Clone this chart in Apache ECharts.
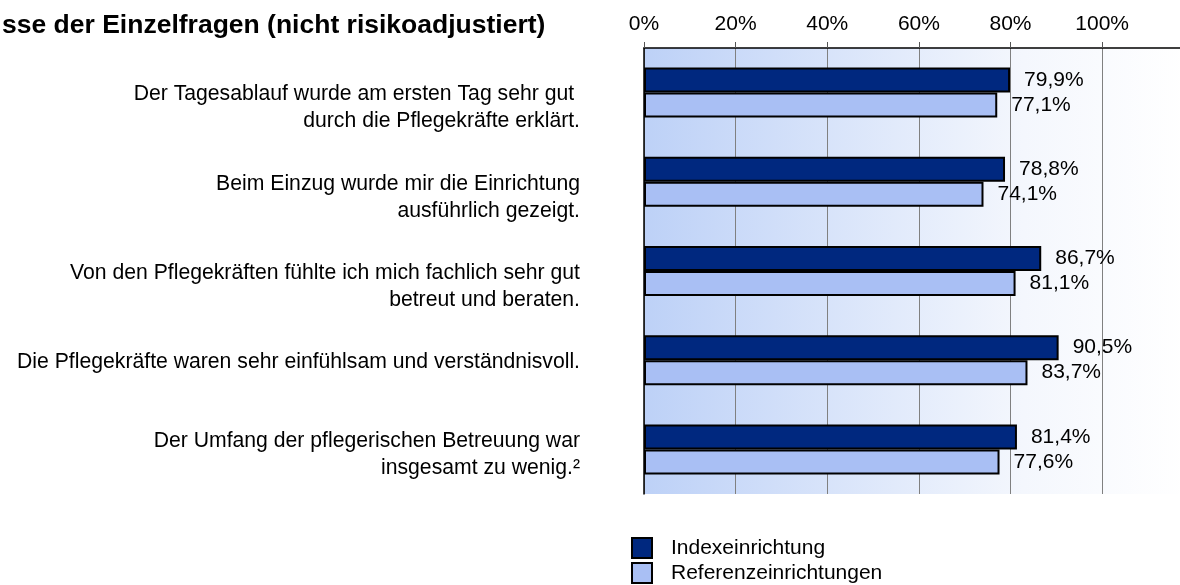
<!DOCTYPE html>
<html>
<head>
<meta charset="utf-8">
<script src="https://cdn.jsdelivr.net/npm/echarts@6/dist/echarts.min.js"></script>
<style>
  html, body { margin: 0; padding: 0; background: #fff; }
  #chart { width: 1180px; height: 585px; }
</style>
</head>
<body>
<div id="chart"></div>
<script>
// question texts (top to bottom)
const questions = [
  "Der Tagesablauf wurde am ersten Tag sehr gut \ndurch die Pflegekräfte erklärt.",
  "Beim Einzug wurde mir die Einrichtung\nausführlich gezeigt.",
  "Von den Pflegekräften fühlte ich mich fachlich sehr gut\nbetreut und beraten.",
  "Die Pflegekräfte waren sehr einfühlsam und verständnisvoll.",
  "Der Umfang der pflegerischen Betreuung war\ninsgesamt zu wenig.²"
];
const indexValues = [79.9, 78.8, 86.7, 90.5, 81.4];
const referenceValues = [77.1, 74.1, 81.1, 83.7, 77.6];
const seriesNames = ["Indexeinrichtung", "Referenzeinrichtungen"];
const titleText = "sse der Einzelfragen (nicht risikoadjustiert)";

const font = "Liberation Sans, Arial, sans-serif";
// spacer above each label so the first line sits on the bar pair
const labelPad = ["p31", "p31", "p31", "p4", "p10"];

const chart = echarts.init(document.getElementById("chart"));

const pct = v => v.toFixed(1).replace(".", ",") + "%";

const valueLabel = {
  show: true,
  position: "right",
  distance: 14,
  fontFamily: font,
  fontSize: 21,
  color: "#000",
  formatter: p => pct(p.value)
};

const legendBase = {
  orient: "vertical",
  left: 631,
  padding: 0,
  itemWidth: 20,
  itemHeight: 20,
  icon: "rect",
  textStyle: { fontFamily: font, fontSize: 21, color: "#000", padding: [0, 0, 0, 14] }
};

chart.setOption({
  animation: false,
  title: {
    text: titleText,
    left: -3,
    top: 7,
    textStyle: { fontFamily: font, fontSize: 26.5, fontWeight: "bold", color: "#000" }
  },
  legend: [
    Object.assign({}, legendBase, { top: 537, data: [seriesNames[0]] }),
    Object.assign({}, legendBase, { top: 562, data: [seriesNames[1]] })
  ],
  grid: {
    left: 644,
    top: 48,
    right: -6,
    bottom: 91,
    outerBoundsMode: "none",
    show: true,
    borderWidth: 0,
    backgroundColor: new echarts.graphic.LinearGradient(0, 0, 1, 0, [
      { offset: 0, color: "#bdd1f7" },
      { offset: 0.7, color: "#f4f7fd" },
      { offset: 1, color: "#ffffff" }
    ])
  },
  xAxis: {
    type: "value",
    position: "top",
    min: 0,
    max: 118.3,
    interval: 20,
    axisLine: { show: true, lineStyle: { color: "#000", width: 1.5 } },
    axisTick: { show: true, length: 6, lineStyle: { color: "#555" } },
    splitLine: { show: true, lineStyle: { color: "#808080", width: 1 } },
    axisLabel: {
      margin: 13,
      fontFamily: font,
      fontSize: 21,
      color: "#000",
      formatter: v => (v > 100 ? "" : v + "%")
    }
  },
  yAxis: {
    type: "category",
    inverse: true,
    data: questions,
    axisLine: { show: true, lineStyle: { color: "#000", width: 1.5 } },
    axisTick: { show: false },
    axisLabel: {
      margin: 64,
      align: "right",
      formatter: (value, index) => {
        const lines = value.split("\n").map(l => "{t|" + l + "}").join("\n");
        return "{" + labelPad[index] + "| }\n" + lines;
      },
      rich: {
        t: { fontFamily: font, fontSize: 21.2, lineHeight: 27, color: "#000" },
        p31: { fontSize: 2, lineHeight: 31, height: 31 },
        p10: { fontSize: 2, lineHeight: 10, height: 10 },
        p4: { fontSize: 2, lineHeight: 4, height: 4 }
      }
    }
  },
  series: [
    {
      name: seriesNames[0],
      type: "bar",
      data: indexValues,
      barWidth: 25,
      barGap: "0%",
      itemStyle: { color: "#00287f", borderColor: "#000", borderWidth: 2 },
      label: valueLabel
    },
    {
      name: seriesNames[1],
      type: "bar",
      data: referenceValues,
      barWidth: 25,
      barGap: "0%",
      itemStyle: { color: "#a9bff4", borderColor: "#000", borderWidth: 2 },
      label: valueLabel
    }
  ]
});
</script>
</body>
</html>
